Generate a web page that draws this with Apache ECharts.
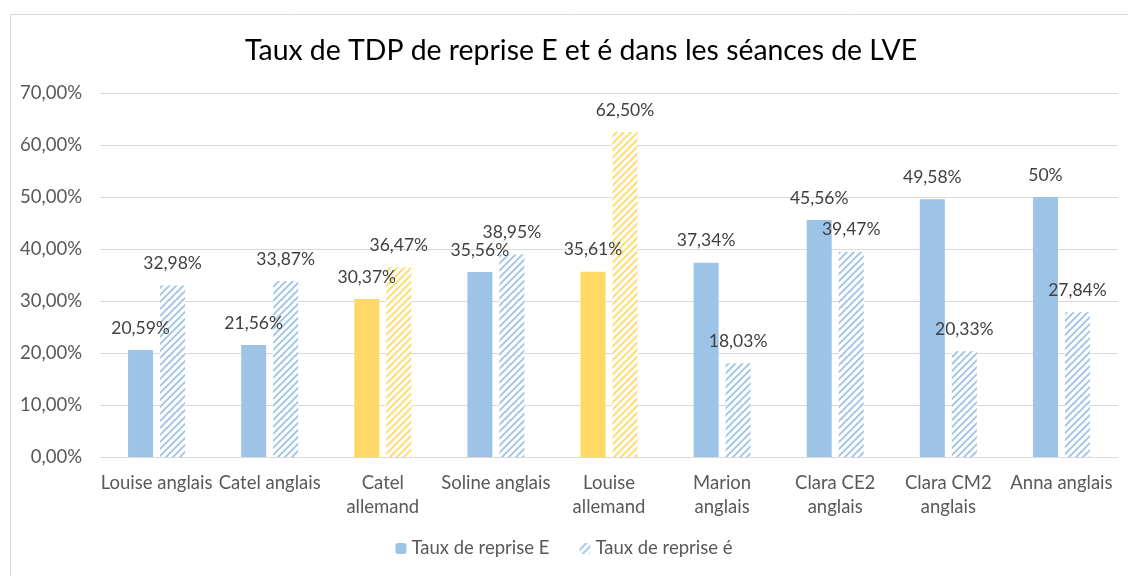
<!DOCTYPE html>
<html>
<head>
<meta charset="utf-8">
<script src="https://cdn.jsdelivr.net/npm/echarts@6/dist/echarts.min.js"></script>
<style>
  html, body { margin: 0; padding: 0; background: #fff; }
  #chart { width: 1128px; height: 576px; }
</style>
</head>
<body>
<div id="chart"></div>
<script>
const categories = ['Louise anglais', 'Catel anglais', 'Catel\nallemand', 'Soline anglais', 'Louise\nallemand', 'Marion\nanglais', 'Clara CE2\nanglais', 'Clara CM2\nanglais', 'Anna anglais']
const valuesE = [20.59, 21.56, 30.37, 35.56, 35.61, 37.34, 45.56, 49.58, 50]
const valuesAcc = [32.98, 33.87, 36.47, 38.95, 62.50, 18.03, 39.47, 20.33, 27.84]
const labelsE = ['20,59%', '21,56%', '30,37%', '35,56%', '35,61%', '37,34%', '45,56%', '49,58%', '50%']
const labelsAcc = ['32,98%', '33,87%', '36,47%', '38,95%', '62,50%', '18,03%', '39,47%', '20,33%', '27,84%']
const germanIdx = [2, 4]

const blue = '#9DC3E6'
const yellow = '#FFD966'
const font = 'Lato, "Noto Sans", sans-serif'

// motif hachuré pour la série "é"
function hatch(color) {
  const c = document.createElement('canvas')
  c.width = 7
  c.height = 7
  const ctx = c.getContext('2d')
  ctx.fillStyle = '#fff'
  ctx.fillRect(0, 0, 7, 7)
  ctx.strokeStyle = color
  ctx.lineWidth = 1.8
  ctx.beginPath()
  ctx.moveTo(-2, 9); ctx.lineTo(9, -2)
  ctx.moveTo(-9, 9); ctx.lineTo(2, -2)
  ctx.moveTo(5, 9); ctx.lineTo(16, -2)
  ctx.stroke()
  return { image: c, repeat: 'repeat' }
}

const chart = echarts.init(document.getElementById('chart'), null, { renderer: 'canvas' })

const labelStyle = { show: true, position: 'top', distance: 13, fontSize: 17.5, color: '#404040', fontFamily: font }

chart.setOption({
  animation: false,
  graphic: [{
    type: 'rect', left: 8, top: 12,
    shape: { width: 1140, height: 600 },
    style: { fill: 'none', stroke: '#D9D9D9', lineWidth: 1 }
  }],
  title: {
    text: 'Taux de TDP de reprise E et é dans les séances de LVE',
    left: 240, top: 32,
    textStyle: { fontSize: 28.4, fontWeight: 'normal', color: '#000', fontFamily: font }
  },
  legend: {
    bottom: 13, left: 'center',
    itemWidth: 11, itemHeight: 11, itemGap: 30,
    textStyle: { fontSize: 18.5, color: '#595959', fontFamily: font },
    data: ['Taux de reprise E', 'Taux de reprise é']
  },
  grid: { left: 100, right: 10, top: 93, bottom: 119, containLabel: false },
  xAxis: {
    type: 'category',
    data: categories,
    axisTick: { show: false },
    axisLine: { lineStyle: { color: '#D9D9D9' } },
    axisLabel: { color: '#595959', fontSize: 18.5, fontFamily: font, margin: 14, lineHeight: 24, interval: 0 }
  },
  yAxis: {
    type: 'value',
    min: 0, max: 70, interval: 10,
    axisLabel: {
      color: '#595959', fontSize: 18.5, fontFamily: font, margin: 18,
      formatter: v => v.toFixed(2).replace('.', ',') + '%'
    },
    splitLine: { lineStyle: { color: '#D9D9D9' } }
  },
  series: [{
    name: 'Taux de reprise E',
    type: 'bar',
    barWidth: 25,
    barGap: '28%',
    itemStyle: { color: blue },
    label: { ...labelStyle, formatter: p => labelsE[p.dataIndex] },
    data: valuesE.map((v, i) => germanIdx.includes(i) ? { value: v, itemStyle: { color: yellow } } : v)
  }, {
    name: 'Taux de reprise é',
    type: 'bar',
    barWidth: 25,
    itemStyle: { color: hatch(blue) },
    label: { ...labelStyle, formatter: p => labelsAcc[p.dataIndex] },
    data: valuesAcc.map((v, i) => germanIdx.includes(i) ? { value: v, itemStyle: { color: hatch(yellow) } } : v)
  }]
})

window.addEventListener('resize', () => chart.resize())
</script>
</body>
</html>
